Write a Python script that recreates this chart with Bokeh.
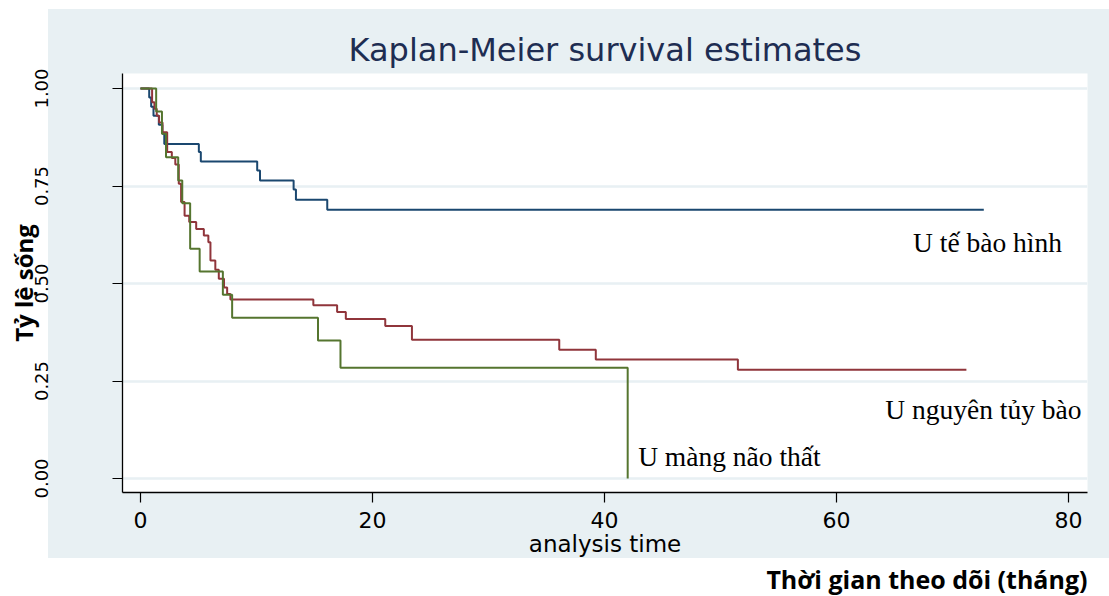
from bokeh.plotting import figure
from bokeh.models import FixedTicker, Label, Title, Range1d
from bokeh.embed import file_html
from bokeh.resources import INLINE

# ---- data ----
blue_t = [0, 0.75, 0.92, 1.12, 1.58, 1.88, 2.05, 5.03, 5.2, 10.06, 10.3, 13.2, 13.4, 16.1, 72.7]
blue_s = [1.0, 0.977, 0.953, 0.930, 0.907, 0.884, 0.858, 0.837, 0.813, 0.790, 0.764, 0.741, 0.715, 0.689, 0.689]

red_t = [0, 1.0, 1.2, 1.4, 1.6, 1.9, 2.3, 2.7, 3.0, 3.3, 3.5, 3.8, 4.2, 4.8, 5.46, 5.85, 6.03, 6.45,
         6.75, 7.2, 7.47, 7.75, 14.9, 16.95, 17.7, 21.1, 23.4, 36.1, 39.25, 51.5, 71.2]
red_s = [1.0, 0.965, 0.948, 0.930, 0.913, 0.888, 0.837, 0.822, 0.805, 0.756, 0.709, 0.674, 0.658, 0.640,
         0.623, 0.606, 0.559, 0.535, 0.512, 0.490, 0.473, 0.459, 0.444, 0.427, 0.409, 0.391, 0.356,
         0.330, 0.305, 0.279, 0.279]

green_t = [0, 1.35, 1.85, 2.2, 3.25, 3.6, 4.28, 5.1, 7.1, 7.9, 15.3, 17.24, 42.0]
green_s = [1.0, 0.941, 0.884, 0.824, 0.764, 0.706, 0.589, 0.531, 0.471, 0.412, 0.354, 0.284, 0.0]

series_names = ["U tế bào hình", "U nguyên tủy bào", "U màng não thất"]

x_ticks = [0, 20, 40, 60, 80]
y_ticks = [0.0, 0.25, 0.5, 0.75, 1.0]
y_tick_labels = ["0.00", "0.25", "0.50", "0.75", "1.00"]

title_text = "Kaplan-Meier survival estimates"
x_label = "analysis time"
y_label = "Tỷ lệ sống"
bottom_note = "Thời gian theo dõi (tháng)"

# ---- styles ----
PANEL = "#e8f0f3"
BLUE = "#1a476f"
RED = "#90353b"
GREEN = "#55752f"

p = figure(width=1109, height=596,
           x_range=Range1d(-1.552, 81.64), y_range=Range1d(-0.0359, 1.0385),
           output_backend="svg", toolbar_location=None,
           min_border_left=122, min_border_right=22, min_border_top=73, min_border_bottom=104)

p.background_fill_color = "white"
p.border_fill_color = None
p.outline_line_color = None
p.styles = {"background": f"linear-gradient({PANEL}, {PANEL}) 48px 9px / 1061px 549px no-repeat, #ffffff"}

p.xgrid.visible = False
p.ygrid.ticker = FixedTicker(ticks=y_ticks)
p.ygrid.grid_line_color = PANEL
p.ygrid.grid_line_width = 2.5

# x axis
xa = p.xaxis[0]
xa.ticker = FixedTicker(ticks=x_ticks)
xa.major_tick_out = 10
xa.major_tick_in = 0
xa.minor_tick_out = 0
xa.minor_tick_in = 0
xa.axis_line_width = 1.3
xa.major_tick_line_width = 1.2
xa.major_label_text_font = "DejaVu Sans"
xa.major_label_text_font_size = "22px"
xa.major_label_text_color = "black"
xa.major_label_standoff = 9
xa.axis_label = x_label
xa.axis_label_text_font = "DejaVu Sans"
xa.axis_label_text_font_style = "normal"
xa.axis_label_text_font_size = "23px"
xa.axis_label_text_color = "black"
xa.axis_label_standoff = 0

# y axis
ya = p.yaxis[0]
ya.ticker = FixedTicker(ticks=y_ticks)
ya.major_label_overrides = {t: s for t, s in zip(y_ticks, y_tick_labels)}
ya.major_label_orientation = "vertical"
ya.major_tick_out = 10
ya.major_tick_in = 0
ya.minor_tick_out = 0
ya.minor_tick_in = 0
ya.axis_line_width = 1.3
ya.major_tick_line_width = 1.2
ya.major_label_text_font = "DejaVu Sans"
ya.major_label_text_font_size = "18px"
ya.major_label_text_color = "black"
ya.major_label_standoff = 64
ya.axis_label = y_label
ya.axis_label_text_font = "Open Sans"
ya.axis_label_text_font_style = "bold"
ya.axis_label_text_font_size = "24px"
ya.axis_label_text_color = "black"
ya.axis_label_standoff = -7

# title
p.title.text = title_text
p.title.align = "center"
p.title.text_font = "DejaVu Sans"
p.title.text_font_style = "normal"
p.title.text_font_size = "32px"
p.title.text_color = "#1e2d52"
p.title.standoff = 10

note = Title(text=bottom_note, align="right", text_font="Open Sans", text_font_style="bold",
             text_font_size="25px", text_color="black", standoff=0)
p.add_layout(note, "below")

# curves
p.step(blue_t, blue_s, mode="after", line_color=BLUE, line_width=2)
p.step(red_t, red_s, mode="after", line_color=RED, line_width=2)
p.step(green_t, green_s, mode="after", line_color=GREEN, line_width=2)

# series labels
label_pos = [(66.6, 0.605), (64.2, 0.177), (42.9, 0.057)]
for name, (lx, ly) in zip(series_names, label_pos):
    p.add_layout(Label(x=lx, y=ly, text=name, text_font="Liberation Serif",
                       text_font_size="27.5px", text_color="black", text_baseline="alphabetic"))

open("out.html", "w").write(file_html(p, INLINE))
